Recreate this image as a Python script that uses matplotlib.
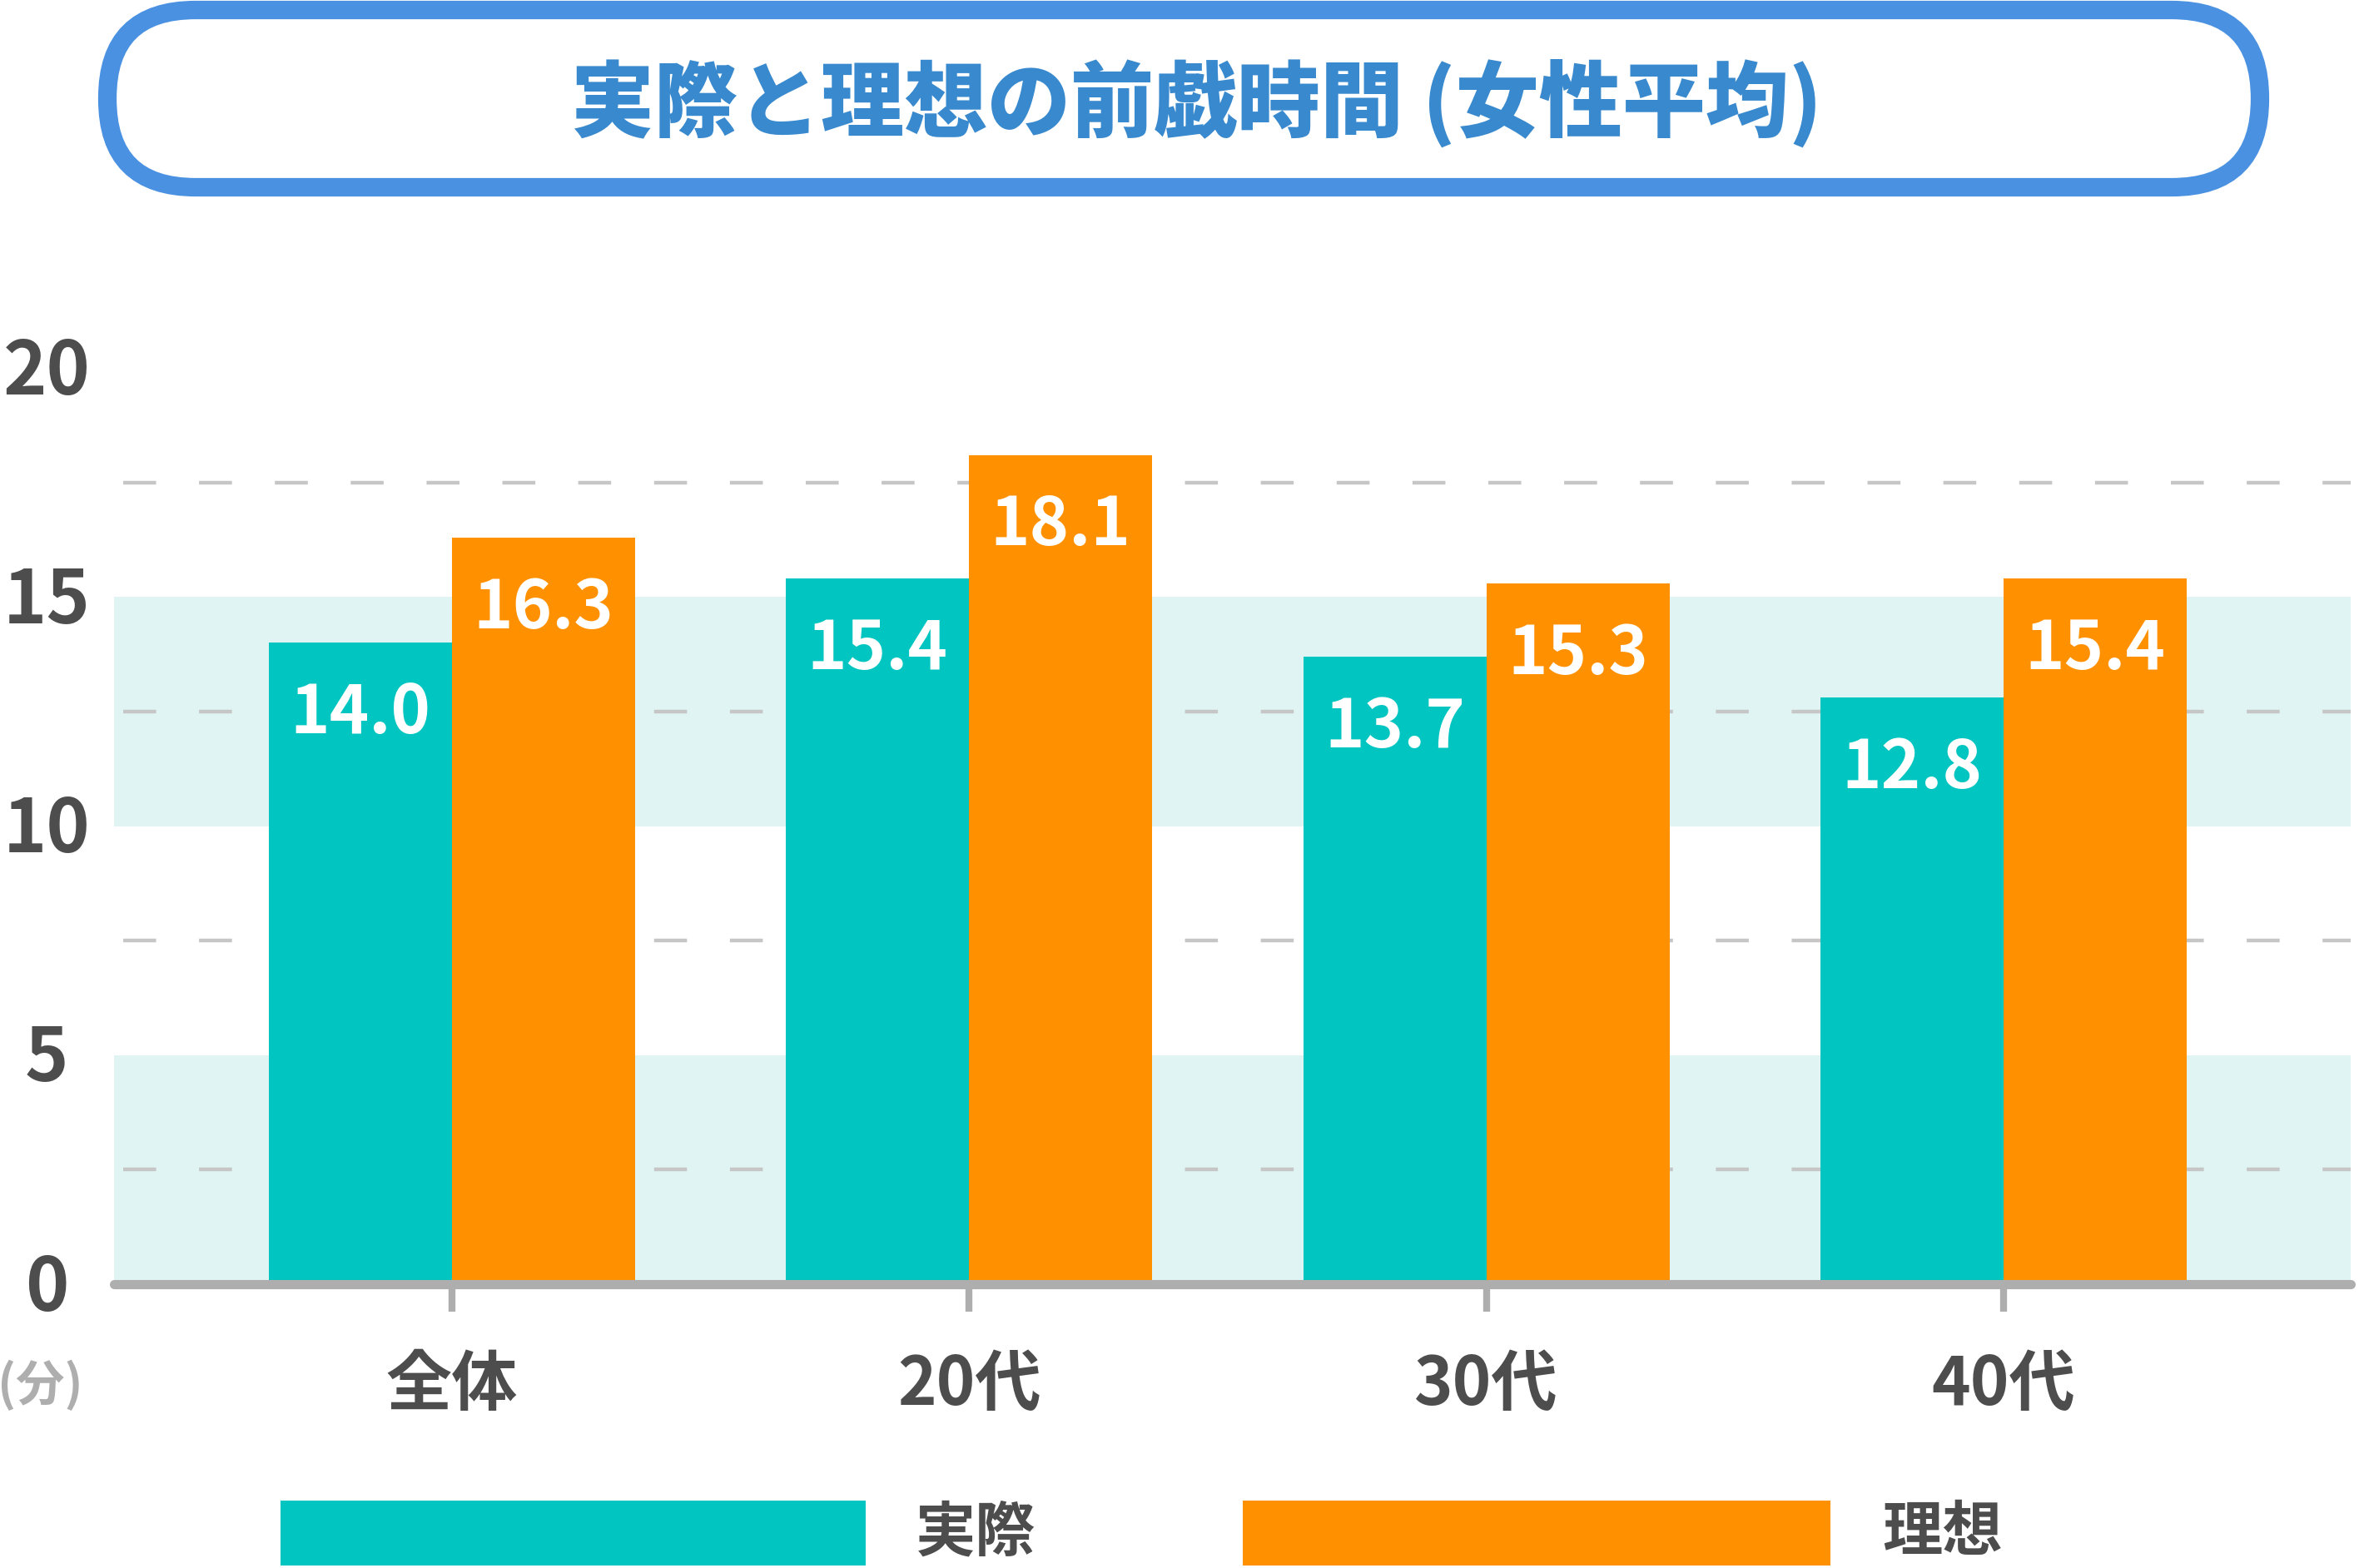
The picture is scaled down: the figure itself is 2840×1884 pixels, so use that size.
import matplotlib.pyplot as plt
import matplotlib.transforms as mtransforms
from matplotlib.patches import FancyBboxPatch, Rectangle

plt.rcParams['font.family'] = ['Noto Sans CJK JP', 'DejaVu Sans']

# data
categories = ['全体', '20代', '30代', '40代']
series_names = ['実際', '理想']
actual = [14.0, 15.4, 13.7, 12.8]
ideal = [16.3, 18.1, 15.3, 15.4]
yticks = [0, 5, 10, 15, 20]
bands = [(0, 5), (10, 15)]
grid_levels = [2.5, 7.5, 12.5, 17.5]
title = '実際と理想の前戯時間 (女性平均)'
unit = '(分)'

teal = '#00C5C0'
orange = '#FF9000'
band_col = '#E0F5F3'
dark = '#4D4D4D'
gray = '#AEAEAE'

W, H = 2840, 1884
fig = plt.figure(figsize=(W / 200, H / 200), dpi=200)

ax = fig.add_axes([137 / W, 341 / H, 2687 / W, (1442 - 341) / H])
ax.set_xlim(-0.653, 3.671)
ax.set_ylim(0, 20)

for lo, hi in bands:
    ax.axhspan(lo, hi, color=band_col, lw=0, zorder=0)
for g in grid_levels:
    ax.axhline(g, xmin=0.004, xmax=1, color='#C6C6C6', lw=1.6,
               dashes=(8.9, 11.6), zorder=1)

bw = 0.354
x = list(range(len(categories)))
b1 = ax.bar([i - bw / 2 for i in x], actual, bw, color=teal, zorder=2)
b2 = ax.bar([i + bw / 2 for i in x], ideal, bw, color=orange, zorder=2)

for bars, vals in ((b1, actual), (b2, ideal)):
    for r, v in zip(bars, vals):
        ax.text(r.get_x() + r.get_width() / 2, v - 1.55, f'{v:.1f}',
                ha='center', va='center', color='white', fontsize=29,
                fontweight='bold', zorder=3)

for s in ['top', 'right', 'left']:
    ax.spines[s].set_visible(False)
ax.spines['bottom'].set_color(gray)
ax.spines['bottom'].set_linewidth(4)
ax.spines['bottom'].set_capstyle('round')
ax.spines['bottom'].set_zorder(4)

ax.set_xticks(x)
ax.set_xticklabels(categories, fontsize=28.5, fontweight='bold', color=dark)
ax.tick_params(axis='x', length=12, width=3, color=gray, pad=17)
ax.set_yticks([])

blend = mtransforms.blended_transform_factory(fig.transFigure, ax.transData)
for t in yticks:
    ax.text(56 / W, t - 0.1, str(t), transform=blend, ha='center', va='center',
            fontsize=32, fontweight='bold', color=dark, clip_on=False)

fig.text(48 / W, 219 / H, unit, ha='center', va='center', fontsize=21,
         fontweight='bold', color=gray)

# overlay in pixel coordinates for title box and legend
ov = fig.add_axes([0, 0, 1, 1], zorder=-1)
ov.set_xlim(0, W)
ov.set_ylim(0, H)
ov.axis('off')

box = FancyBboxPatch((129 + 106, 1659 + 106), 2715 - 129 - 212, 1,
                     boxstyle='round,pad=106,rounding_size=106',
                     fc='white', ec='#4A91E2', lw=8)
ov.add_patch(box)
ov.text(1437, 1760, title, ha='center', va='center', fontsize=36,
        fontweight='black', color='#3889CE')

leg = [(337, 1040, teal, 1172), (1493, 2199, orange, 2333)]
for (x0, x1, c, tx), name in zip(leg, series_names):
    ov.add_patch(Rectangle((x0, 3), x1 - x0, 78, fc=c, ec='none'))
    ov.text(tx, 42, name, ha='center', va='center', fontsize=26,
            fontweight='bold', color=dark)

fig.savefig('out.png', dpi=200, facecolor='white')
